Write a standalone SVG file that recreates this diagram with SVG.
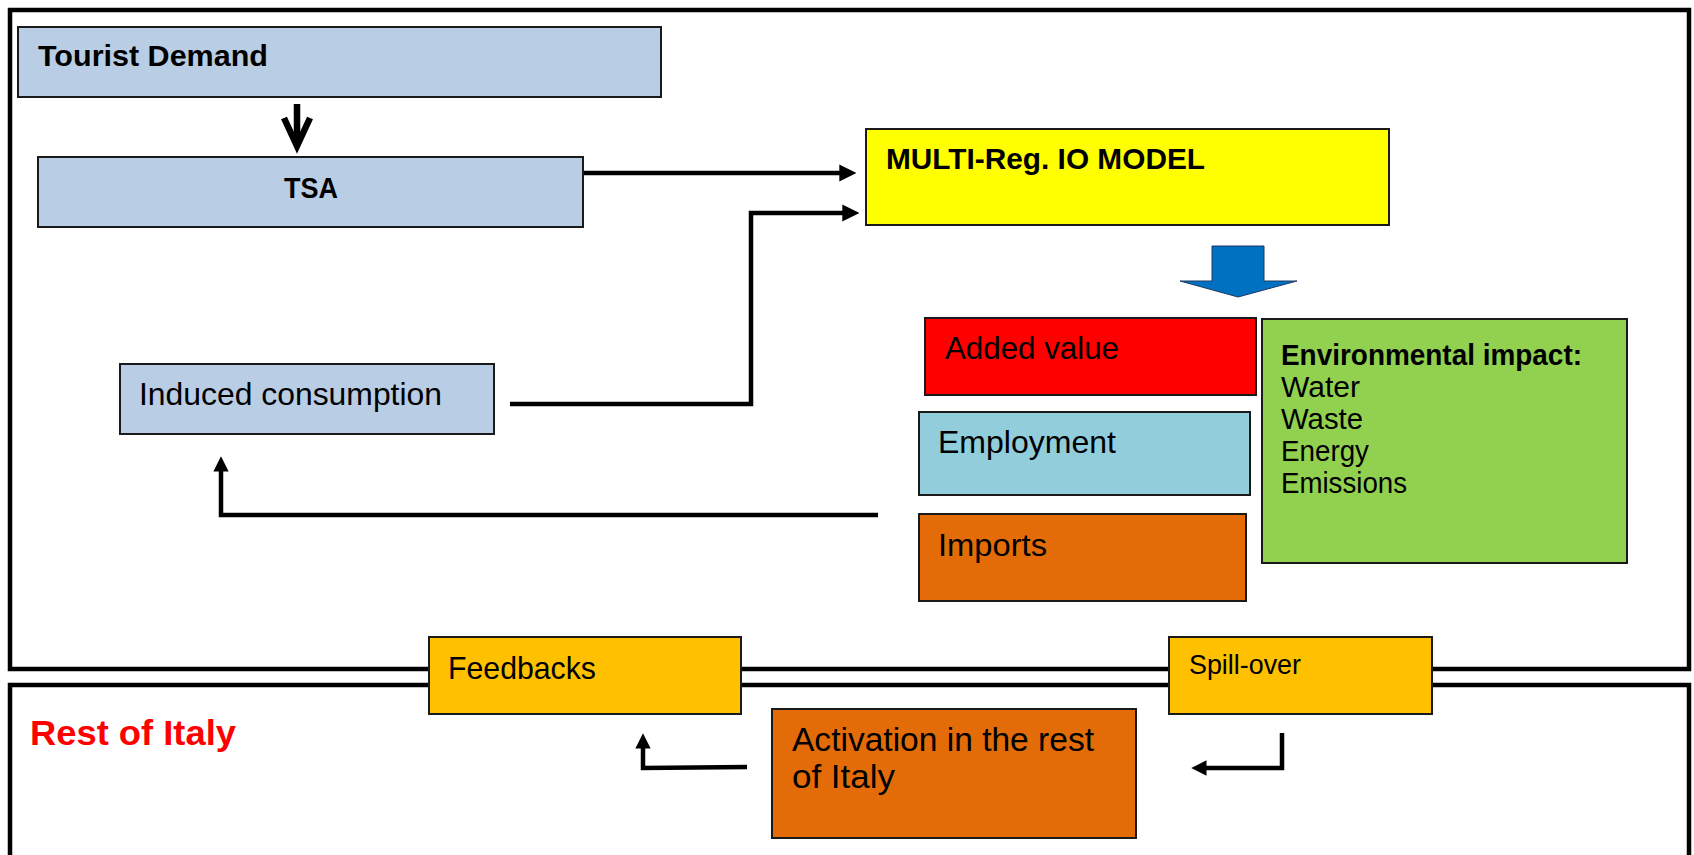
<svg xmlns="http://www.w3.org/2000/svg" width="1694" height="855" viewBox="0 0 1694 855">
  <style>
    text { font-family: "Liberation Sans", Arial, sans-serif; fill: #000; }
    .b { font-weight: bold; }
    .frame { fill: none; stroke: #000; stroke-width: 4.5; }
    .box { stroke: #1a1a1a; stroke-width: 2; }
    .blue { fill: #B9CDE5; }
    .yellow { fill: #FFFF00; }
    .red { fill: #FF0000; }
    .teal { fill: #92CDDC; }
    .orange { fill: #E36C09; }
    .green { fill: #92D050; }
    .gold { fill: #FFC000; }
    .conn { fill: none; stroke: #000; stroke-width: 4.5; stroke-linejoin: miter; }
  </style>
  <defs>
    <marker id="head" viewBox="0 0 10 10" refX="1" refY="5" markerWidth="3.8" markerHeight="3.8" orient="auto" markerUnits="strokeWidth">
      <path d="M0,0 L10,5 L0,10 Z" fill="#000"/>
    </marker>
    <marker id="headSmall" viewBox="0 0 10 10" refX="1" refY="5" markerWidth="3.4" markerHeight="3.4" orient="auto" markerUnits="strokeWidth">
      <path d="M0,0 L10,5 L0,10 Z" fill="#000"/>
    </marker>
  </defs>

  <rect width="1694" height="855" fill="#fff"/>

  <!-- region frames -->
  <g id="frames">
    <rect class="frame" x="10" y="10" width="1679" height="659"/>
    <rect class="frame" x="10" y="685" width="1679" height="190"/>
  </g>

  <!-- connectors -->
  <g id="connectors">
    <!-- Tourist Demand to TSA -->
    <line x1="297" y1="104" x2="297" y2="143" stroke="#000" stroke-width="6.5"/>
    <polyline points="284,118 297,146 310,118" fill="none" stroke="#000" stroke-width="6.5" stroke-linejoin="miter"/>
    <!-- TSA to model -->
    <line class="conn" x1="583" y1="173" x2="841" y2="173" marker-end="url(#head)"/>
    <!-- induced consumption to model -->
    <polyline class="conn" points="510,404 751,404 751,213 844,213" marker-end="url(#head)"/>
    <!-- imports back to induced consumption -->
    <polyline class="conn" points="878,515 221,515 221,470" marker-end="url(#headSmall)"/>
    <!-- activation back to feedbacks -->
    <polyline class="conn" points="747,767 643,768 643,747" marker-end="url(#headSmall)"/>
    <!-- spill-over to activation -->
    <polyline class="conn" points="1282,733 1282,768 1205,768" marker-end="url(#headSmall)"/>
    <!-- model to results -->
    <polygon points="1212,246 1264,246 1264,281 1297,281 1238,297 1180,281 1212,281" fill="#0070C0" stroke="#1F3864" stroke-width="1"/>
  </g>

  <g id="tourist-demand">
    <rect class="box blue" x="18" y="27" width="643" height="70"/>
    <text class="b" x="38" y="66" font-size="30" textLength="230" lengthAdjust="spacingAndGlyphs">Tourist Demand</text>
  </g>

  <g id="tsa">
    <rect class="box blue" x="38" y="157" width="545" height="70"/>
    <text class="b" x="284" y="198" font-size="30" textLength="54" lengthAdjust="spacingAndGlyphs">TSA</text>
  </g>

  <g id="multi-reg-io-model">
    <rect class="box yellow" x="866" y="129" width="523" height="96"/>
    <text class="b" x="886" y="169" font-size="30" textLength="319" lengthAdjust="spacingAndGlyphs">MULTI-Reg. IO MODEL</text>
  </g>

  <g id="induced-consumption">
    <rect class="box blue" x="120" y="364" width="374" height="70"/>
    <text x="139" y="405" font-size="32" textLength="303" lengthAdjust="spacingAndGlyphs">Induced consumption</text>
  </g>

  <g id="added-value">
    <rect class="box red" x="925" y="318" width="331" height="77"/>
    <text x="945" y="359" font-size="32" textLength="174" lengthAdjust="spacingAndGlyphs">Added value</text>
  </g>

  <g id="employment">
    <rect class="box teal" x="919" y="412" width="331" height="83"/>
    <text x="938" y="453" font-size="32" textLength="178" lengthAdjust="spacingAndGlyphs">Employment</text>
  </g>

  <g id="imports">
    <rect class="box orange" x="919" y="514" width="327" height="87"/>
    <text x="938" y="556" font-size="32" textLength="109" lengthAdjust="spacingAndGlyphs">Imports</text>
  </g>

  <g id="environmental-impact">
    <rect class="box green" x="1262" y="319" width="365" height="244"/>
    <text class="b" x="1281" y="365" font-size="29" textLength="301" lengthAdjust="spacingAndGlyphs">Environmental impact:</text>
    <text x="1281" y="397" font-size="30" textLength="79" lengthAdjust="spacingAndGlyphs">Water</text>
    <text x="1281" y="429" font-size="30" textLength="82" lengthAdjust="spacingAndGlyphs">Waste</text>
    <text x="1281" y="461" font-size="30" textLength="88" lengthAdjust="spacingAndGlyphs">Energy</text>
    <text x="1281" y="493" font-size="30" textLength="126" lengthAdjust="spacingAndGlyphs">Emissions</text>
  </g>

  <g id="feedbacks">
    <rect class="box gold" x="429" y="637" width="312" height="77"/>
    <text x="448" y="679" font-size="32" textLength="148" lengthAdjust="spacingAndGlyphs">Feedbacks</text>
  </g>

  <g id="spill-over">
    <rect class="box gold" x="1169" y="637" width="263" height="77"/>
    <text x="1189" y="674" font-size="27" textLength="112" lengthAdjust="spacingAndGlyphs">Spill-over</text>
  </g>

  <g id="activation">
    <rect class="box orange" x="772" y="709" width="364" height="129"/>
    <text x="792" y="751" font-size="33" textLength="302" lengthAdjust="spacingAndGlyphs">Activation in the rest</text>
    <text x="792" y="788" font-size="33" textLength="103" lengthAdjust="spacingAndGlyphs">of Italy</text>
  </g>

  <g id="rest-of-italy">
    <text class="b" x="30" y="745" font-size="35" fill="#FF0000" style="fill:#FF0000" textLength="206" lengthAdjust="spacingAndGlyphs">Rest of Italy</text>
  </g>
</svg>
